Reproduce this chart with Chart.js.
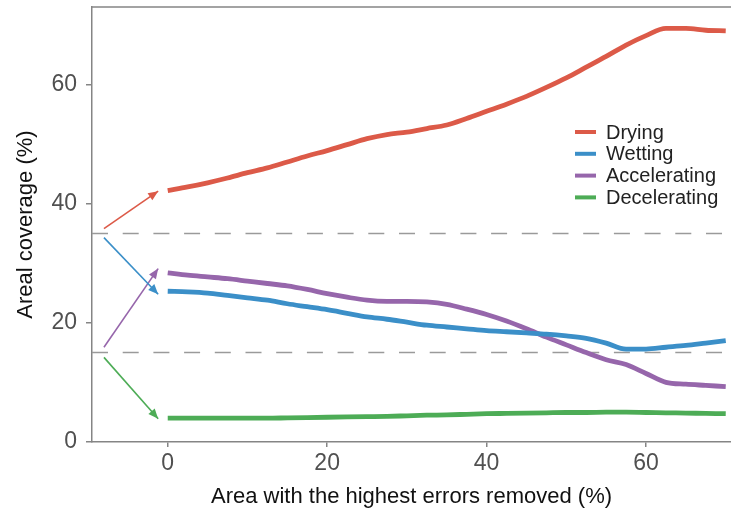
<!DOCTYPE html>
<html lang="en">
<head>
  <meta charset="utf-8" />
  <title>Areal coverage</title>
  <script src="https://cdn.jsdelivr.net/npm/chart.js@4.4.1/dist/chart.umd.min.js"></script>
  <style>
    html, body { margin: 0; padding: 0; background: #fff; }
    #wrap { width: 731px; height: 514px; }
  </style>
</head>
<body>
<div id="wrap"><canvas id="myChart" width="731" height="514"></canvas></div>
<script>
// ---- data ----
var removed = [0, 2.5, 5, 7.5, 10, 12.5, 15, 17.5, 20, 22.5, 25, 27.5, 30, 32.5, 35,
               37.5, 40, 42.5, 45, 47.5, 50, 52.5, 55, 57.5, 60, 62.5, 65, 67.5, 70];
var drying = [42.2, 42.8, 43.5, 44.3, 45.2, 46.0, 47.0, 48.0, 48.9, 49.9, 50.9, 51.6, 52.0, 52.6, 53.2,
              54.3, 55.5, 56.7, 58.0, 59.5, 61.1, 62.9, 64.7, 66.6, 68.2, 69.4, 69.4, 69.1, 69.0];
var wetting = [25.3, 25.2, 25.0, 24.6, 24.2, 23.8, 23.2, 22.7, 22.2, 21.6, 21.0, 20.6, 20.1, 19.6, 19.3,
               19.0, 18.7, 18.5, 18.3, 18.1, 17.8, 17.4, 16.6, 15.6, 15.6, 15.9, 16.2, 16.6, 17.0];
var accelerating = [28.4, 28.0, 27.7, 27.4, 27.0, 26.6, 26.2, 25.6, 24.9, 24.3, 23.8, 23.6, 23.6, 23.5, 23.1,
                    22.3, 21.4, 20.3, 19.0, 17.6, 16.3, 15.0, 13.8, 13.0, 11.5, 10.0, 9.7, 9.5, 9.3];
var decelerating = [4.0, 4.0, 4.0, 4.0, 4.0, 4.0, 4.05, 4.1, 4.15, 4.2, 4.25, 4.3, 4.4, 4.5, 4.55,
                    4.65, 4.75, 4.8, 4.85, 4.9, 4.95, 4.95, 5.0, 5.0, 4.95, 4.9, 4.85, 4.8, 4.75];

var seriesNames = ["Drying", "Wetting", "Accelerating", "Decelerating"];
var seriesColors = ["#dc5a48", "#3b8fc8", "#9666ab", "#4dac56"];

// arrows: from the single-step value (x = -8) to the start of each curve
var arrowX = [-8, -1.2];
var arrowDrying = [35.8, 42.1];
var arrowWetting = [34.3, 24.8];
var arrowAccelerating = [15.9, 29.1];
var arrowDecelerating = [14.2, 3.9];

var thresholds = [35, 15];

var xMin = -9.5, xMax = 70.66;
var yMin = 0, yMax = 73;
var xTicks = [0, 20, 40, 60];
var yTicks = [0, 20, 40, 60];

// ---- build datasets ----
function pts(xs, ys) {
  return xs.map(function (x, i) { return { x: x, y: ys[i] }; });
}

var mainSeries = [drying, wetting, accelerating, decelerating];
var arrowSeries = [arrowDrying, arrowWetting, arrowAccelerating, arrowDecelerating];

var datasets = [];
mainSeries.forEach(function (s, i) {
  datasets.push({
    label: seriesNames[i],
    data: pts(removed, s),
    borderColor: seriesColors[i],
    borderWidth: 4.8,
    pointRadius: 0,
    cubicInterpolationMode: 'monotone',
    order: 0
  });
});
arrowSeries.forEach(function (s, i) {
  datasets.push({
    label: 'arrow',
    isArrow: true,
    data: pts(arrowX, s),
    borderColor: seriesColors[i],
    borderWidth: 1.6,
    pointRadius: 0,
    order: 5
  });
});
thresholds.forEach(function (t) {
  datasets.push({
    label: 'threshold',
    data: [{ x: xMin, y: t }, { x: xMax, y: t }],
    borderColor: '#9a9a9a',
    borderWidth: 1.5,
    borderDash: [16, 14.7],
    borderCapStyle: 'butt',
    pointRadius: 0,
    order: 10
  });
});

// ---- small plugins ----
var arrowHeads = {
  id: 'arrowHeads',
  afterDatasetsDraw: function (chart) {
    var ctx = chart.ctx;
    chart.data.datasets.forEach(function (ds, i) {
      if (!ds.isArrow) return;
      var m = chart.getDatasetMeta(i).data;
      var a = m[0], b = m[1];
      var ang = Math.atan2(b.y - a.y, b.x - a.x);
      var len = 10, half = 4.2;
      ctx.save();
      ctx.fillStyle = ds.borderColor;
      ctx.translate(b.x, b.y);
      ctx.rotate(ang);
      ctx.beginPath();
      ctx.moveTo(0, 0);
      ctx.lineTo(-len, -half);
      ctx.lineTo(-len, half);
      ctx.closePath();
      ctx.fill();
      ctx.restore();
    });
  }
};

var topBorder = {
  id: 'topBorder',
  afterDraw: function (chart) {
    var ctx = chart.ctx, ca = chart.chartArea;
    ctx.save();
    ctx.strokeStyle = '#858585';
    ctx.lineWidth = 1.5;
    ctx.beginPath();
    ctx.moveTo(ca.left, ca.top);
    ctx.lineTo(ca.right, ca.top);
    ctx.stroke();
    ctx.restore();
  }
};

var innerLegend = {
  id: 'innerLegend',
  afterDraw: function (chart) {
    var ctx = chart.ctx;
    ctx.save();
    ctx.font = '20px "Liberation Sans", Arial, sans-serif';
    ctx.textBaseline = 'middle';
    seriesNames.forEach(function (name, i) {
      var y = 132 + i * 21.8;
      ctx.strokeStyle = seriesColors[i];
      ctx.lineWidth = 4;
      ctx.beginPath();
      ctx.moveTo(575, y);
      ctx.lineTo(596, y);
      ctx.stroke();
      ctx.fillStyle = '#222';
      ctx.fillText(name, 606, y + 1);
    });
    ctx.restore();
  }
};

var fontFam = '"Liberation Sans", Arial, sans-serif';

new Chart(document.getElementById('myChart').getContext('2d'), {
  type: 'line',
  data: { datasets: datasets },
  plugins: [arrowHeads, topBorder, innerLegend],
  options: {
    responsive: false,
    animation: false,
    layout: { padding: { top: 7, right: 0, left: 0, bottom: 0 } },
    plugins: {
      legend: { display: false },
      tooltip: { enabled: false }
    },
    scales: {
      x: {
        type: 'linear',
        min: xMin,
        max: xMax,
        afterBuildTicks: function (s) { s.ticks = xTicks.map(function (v) { return { value: v }; }); },
        afterFit: function (s) { s.height = 72; s.paddingLeft = 0; s.paddingRight = 0; },
        grid: { drawOnChartArea: false, tickLength: 5, color: '#858585', lineWidth: 1.5 },
        border: { color: '#858585', width: 1.5 },
        ticks: { color: '#505050', font: { family: fontFam, size: 23 }, padding: 3, maxRotation: 0 },
        title: {
          display: true,
          text: 'Area with the highest errors removed (%)',
          color: '#111',
          font: { family: fontFam, size: 22 },
          padding: { top: 0, bottom: 4 }
        }
      },
      y: {
        min: yMin,
        max: yMax,
        afterBuildTicks: function (s) { s.ticks = yTicks.map(function (v) { return { value: v }; }); },
        afterFit: function (s) { s.width = 92; s.paddingTop = 0; s.paddingBottom = 0; },
        grid: { drawOnChartArea: false, tickLength: 6, color: '#858585', lineWidth: 1.5 },
        border: { color: '#858585', width: 1.5 },
        ticks: { color: '#505050', font: { family: fontFam, size: 23 }, padding: 9 },
        title: {
          display: true,
          text: 'Areal coverage (%)',
          color: '#111',
          font: { family: fontFam, size: 22 },
          padding: { top: 13, bottom: 0 }
        }
      }
    }
  }
});
</script>
</body>
</html>
